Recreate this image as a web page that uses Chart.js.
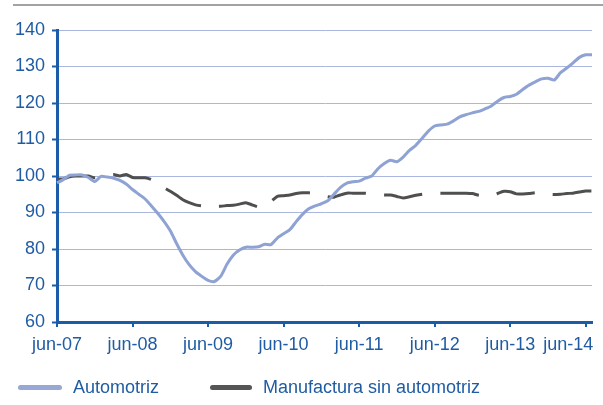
<!DOCTYPE html>
<html>
<head>
<meta charset="utf-8">
<script src="https://cdn.jsdelivr.net/npm/chart.js@4.4.1/dist/chart.umd.min.js"></script>
<style>
  body { margin: 0; background: #fff; }
  #wrap { position: relative; width: 603px; height: 405px; overflow: hidden; font-family: "Liberation Sans", Arial, sans-serif; }
  #topline { position: absolute; left: 13px; right: 0; top: 4px; height: 2px; background: #a3a3a3; }
  canvas { position: absolute; left: 0; top: 0; }
  .leg { position: absolute; top: 376px; font-size: 18px; line-height: 22px; color: #1f5ca3; white-space: nowrap; }
  .swatch { position: absolute; top: 385px; height: 5px; border-radius: 3px; }
</style>
</head>
<body>
<div id="wrap">
  <div id="topline"></div>
  <canvas id="myChart" width="603" height="405"></canvas>
  <div class="swatch" style="left:18px;width:44px;background:#97a7d6"></div>
  <div class="leg" style="left:73px">Automotriz</div>
  <div class="swatch" style="left:210px;width:42px;background:#555555"></div>
  <div class="leg" style="left:263px">Manufactura sin automotriz</div>
</div>
<script>
// meses jun-07 .. jul-14
const meses = ['jun', 'jul', 'ago', 'sep', 'oct', 'nov', 'dic', 'ene', 'feb', 'mar', 'abr', 'may'];
const labels = [];
for (let i = 0; i < 86; i++) {
    let yr = 7 + Math.floor((i + 5) / 12);
    labels.push(meses[i % 12] + '-' + (yr < 10 ? '0' + yr : yr));
}

const automotriz = [
    98.1, 99.0, 100.2, 100.3, 100.3, 99.6, 98.5, 99.9, 99.7, 99.4, 98.8, 97.8,
    96.3, 95.0, 93.7, 91.8, 89.8, 87.6, 85.0, 81.5, 78.3, 75.7, 73.8, 72.5,
    71.4, 71.1, 72.5, 75.8, 78.3, 79.7, 80.5, 80.5, 80.6, 81.3, 81.2, 83.0,
    84.2, 85.3, 87.5, 89.5, 91.0, 91.8, 92.4, 93.2, 95.0, 96.8, 98.0, 98.4,
    98.6, 99.4, 100.0, 102.0, 103.4, 104.3, 103.9, 105.2, 107.0, 108.4, 110.3, 112.3,
    113.7, 114.0, 114.2, 115.1, 116.2, 116.8, 117.3, 117.7, 118.4, 119.2, 120.5, 121.5,
    121.8, 122.4, 123.7, 124.9, 125.8, 126.6, 126.8, 126.3, 128.3, 129.6, 131.0, 132.5,
    133.2, 133.2
];

const manufactura = [
    99.2, 99.2, 99.8, 100.0, 100.0, 100.0, 99.5, 99.8, 100.2, 100.4, 100.0, 100.4,
    99.6, 99.5, 99.5, 99.0, 97.8, 96.8, 95.8, 94.7, 93.5, 92.7, 92.1, 91.8,
    91.8, 91.7, 91.7, 91.9, 92.0, 92.3, 92.7, 92.1, 91.5, 91.9, 93.0, 94.4,
    94.6, 94.8, 95.2, 95.4, 95.4, 95.2, 94.8, 94.3, 94.2, 94.8, 95.3, 95.3,
    95.3, 95.3, 95.1, 94.9, 94.8, 94.8, 94.4, 94.0, 94.3, 94.7, 95.0, 95.3,
    95.3, 95.3, 95.3, 95.3, 95.3, 95.3, 95.2, 94.7, 94.5, 94.5, 95.2, 95.8,
    95.7, 95.1, 95.1, 95.2, 95.4, 95.2, 95.0, 94.9, 95.0, 95.2, 95.3, 95.6,
    95.9, 95.9
];

const azulEje = '#1b5ca8';
const azulTexto = '#1f5ca3';
const fuente = { family: '"Liberation Sans", Arial, sans-serif', size: 18 };

var ctx = document.getElementById('myChart').getContext('2d');
var myChart = new Chart(ctx, {
    type: 'line',
    data: {
        labels: labels,
        datasets: [{
            label: 'Automotriz',
            data: automotriz,
            borderColor: '#8fa2d4',
            borderWidth: 3,
            tension: 0.2,
            pointRadius: 0,
            fill: false
        }, {
            label: 'Manufactura sin automotriz',
            data: manufactura,
            borderColor: '#4f4f4f',
            borderWidth: 3,
            borderDash: [39, 18],
            tension: 0.2,
            pointRadius: 0,
            fill: false
        }]
    },
    options: {
        responsive: false,
        animation: false,
        layout: { padding: { top: 30, right: 11, bottom: 0, left: 0 } },
        plugins: { legend: { display: false }, tooltip: { enabled: false } },
        scales: {
            x: {
                grid: { drawOnChartArea: false, drawTicks: true, tickLength: 5, color: azulEje, lineWidth: 2 },
                border: { color: azulEje, width: 3 },
                ticks: {
                    autoSkip: false,
                    maxRotation: 0,
                    padding: 7,
                    color: azulTexto,
                    font: fuente,
                    callback: function (v, i) {
                        if (i % 12 !== 0) return null;
                        // la ultima etiqueta va corrida hacia la izquierda
                        return i === 84 ? labels[i] + '       ' : labels[i];
                    }
                },
                afterFit: function (s) {
                    s.height = 83;
                    s.paddingLeft = 0;
                    s.paddingRight = 0;
                }
            },
            y: {
                min: 60,
                max: 140,
                ticks: { stepSize: 10, padding: 7, color: azulTexto, font: fuente },
                grid: { color: '#a9b7de', lineWidth: 1, tickColor: azulEje, tickLength: 5, tickWidth: 2 },
                border: { color: azulEje, width: 3 },
                afterFit: function (s) {
                    s.width = 57;
                }
            }
        }
    }
});
</script>
</body>
</html>
